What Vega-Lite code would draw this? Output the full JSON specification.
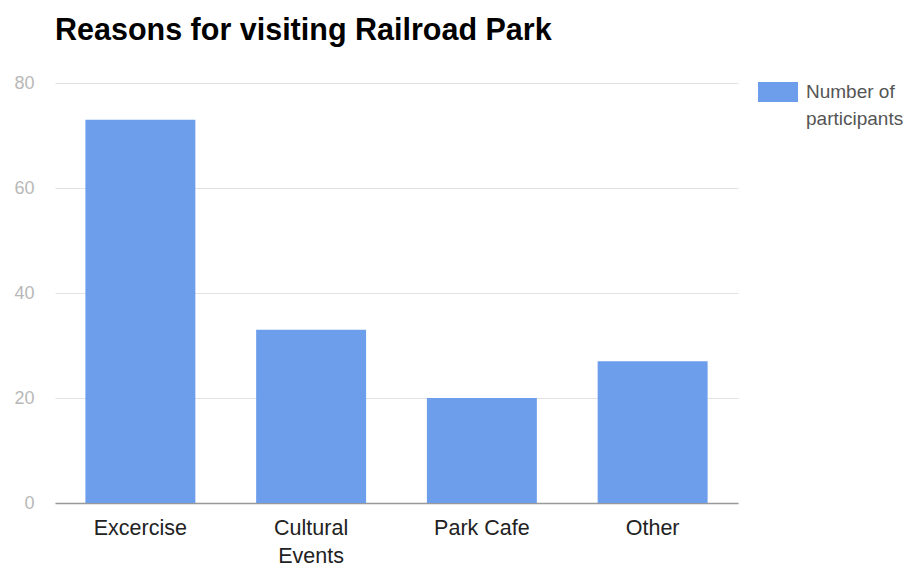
{
  "$schema": "https://vega.github.io/schema/vega-lite/v6.json",
  "autosize": "none",
  "width": 683,
  "height": 420,
  "padding": {"left": 55, "top": 83, "right": 173, "bottom": 64},
  "background": "white",
  "title": {
    "text": "Reasons for visiting Railroad Park",
    "anchor": "start",
    "frame": "group",
    "font": "Liberation Sans",
    "fontSize": 30.5,
    "fontWeight": "bold",
    "color": "#000000",
    "offset": 28
  },
  "data": {
    "values": [
      {"reason": "Excercise", "count": 73, "series": "Number of participants"},
      {"reason": "Cultural Events", "count": 33, "series": "Number of participants"},
      {"reason": "Park Cafe", "count": 20, "series": "Number of participants"},
      {"reason": "Other", "count": 27, "series": "Number of participants"}
    ]
  },
  "mark": {"type": "bar"},
  "encoding": {
    "x": {
      "field": "reason",
      "type": "nominal",
      "sort": null,
      "scale": {"paddingInner": 0.356, "paddingOuter": 0.178},
      "axis": {
        "title": null,
        "labelAngle": 0,
        "labelFont": "Liberation Sans",
        "labelFontSize": 21.5,
        "labelColor": "#222222",
        "labelPadding": 14,
        "labelLineHeight": 28,
        "labelExpr": "datum.value == 'Cultural Events' ? ['Cultural', 'Events'] : datum.value",
        "ticks": false,
        "domainColor": "#999999",
        "domainWidth": 1.5,
        "grid": false
      }
    },
    "y": {
      "field": "count",
      "type": "quantitative",
      "scale": {"domain": [0, 80]},
      "axis": {
        "title": null,
        "values": [0, 20, 40, 60, 80],
        "labelFont": "Liberation Sans",
        "labelFontSize": 18,
        "labelColor": "#b8b8b8",
        "labelPadding": 21,
        "ticks": false,
        "domain": false,
        "gridColor": "#e2e2e2",
        "gridWidth": 1
      }
    },
    "color": {
      "field": "series",
      "type": "nominal",
      "scale": {"range": ["#6d9eeb"]},
      "legend": {
        "title": null,
        "orient": "none",
        "legendX": 703,
        "legendY": -5,
        "symbolType": "M-1,-0.8L1,-0.8L1,0.2L-1,0.2Z",
        "symbolSize": 1600,
        "symbolStrokeWidth": 0,
        "symbolOpacity": 1,
        "labelFont": "Liberation Sans",
        "labelFontSize": 19,
        "labelColor": "#555555",
        "labelOffset": 8,
        "labelBaseline": "alphabetic",
        "labelExpr": "['Number of', 'participants']",
        "labelLimit": 200,
        "encode": {"labels": {"update": {"lineHeight": {"value": 27}}}}
      }
    }
  },
  "config": {
    "view": {"stroke": null}
  }
}
